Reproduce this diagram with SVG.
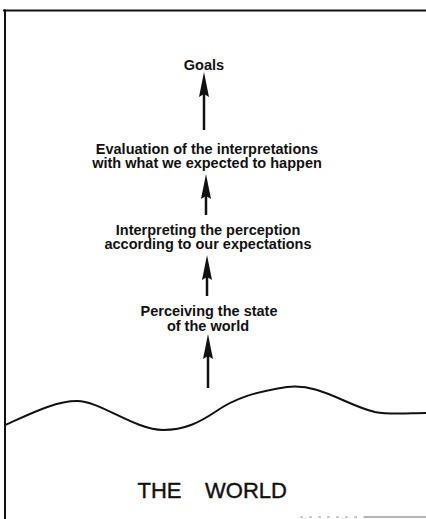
<svg xmlns="http://www.w3.org/2000/svg" width="426" height="519" viewBox="0 0 426 519">
<style>
.t{font-family:"Liberation Sans",Arial,sans-serif;font-size:14.5px;font-weight:bold;fill:#111;text-anchor:middle}
.w{font-family:"Liberation Sans",Arial,sans-serif;font-size:22px;fill:#111;stroke:#111;stroke-width:0.4}
.sh{stroke:#111;stroke-width:2.5;fill:none}
.fr{stroke:#111;stroke-width:2;fill:none}
</style>
<defs>
<marker id="ah" markerUnits="userSpaceOnUse" orient="auto" markerWidth="26" markerHeight="12" refX="5" refY="5.5" viewBox="0 0 26 12">
<path d="M0,0.5 L25,5.5 L0,10.5 L3,5.5 z" fill="#111"/>
</marker>
</defs>
<rect width="426" height="519" fill="#fff"/>
<g id="frame">
<line class="fr" x1="3" y1="10.5" x2="426" y2="10.5"/>
<line class="fr" x1="5" y1="9.5" x2="5" y2="519"/>
<line x1="300" y1="517" x2="365" y2="517" stroke="#999" stroke-width="1" stroke-dasharray="3 6"/>
<line x1="365" y1="517" x2="426" y2="517" stroke="#666" stroke-width="1.2"/>
</g>
<g id="goals"><text class="t" x="204" y="70">Goals</text></g>
<g id="evaluation"><text class="t" x="207" y="154">Evaluation of the interpretations</text><text class="t" x="207" y="168">with what we expected to happen</text></g>
<g id="interpreting"><text class="t" x="208" y="234.5">Interpreting the perception</text><text class="t" x="208" y="248.5">according to our expectations</text></g>
<g id="perceiving"><text class="t" x="209" y="315.5">Perceiving the state</text><text class="t" x="208" y="331">of the world</text></g>
<g id="world">
<path d="M5,425 C30,414 55,401 77,401 C100,401 135,430 163,430 C185,430 200,422 215,412 C235,398 255,392 287,387 C320,383 345,405 375,412 C390,415 410,413 426,413" stroke="#111" stroke-width="2" fill="none"/>
<text class="w" y="498"><tspan x="137.5">THE</tspan><tspan x="205">WORLD</tspan></text>
</g>
<g id="connectors">
<line class="sh" x1="204" y1="130" x2="204" y2="92" marker-end="url(#ah)"/>
<line class="sh" x1="206" y1="215" x2="206" y2="194" marker-end="url(#ah)"/>
<line class="sh" x1="207" y1="296" x2="207" y2="275" marker-end="url(#ah)"/>
<line class="sh" x1="208" y1="388" x2="208" y2="354" marker-end="url(#ah)"/>
</g>
</svg>
